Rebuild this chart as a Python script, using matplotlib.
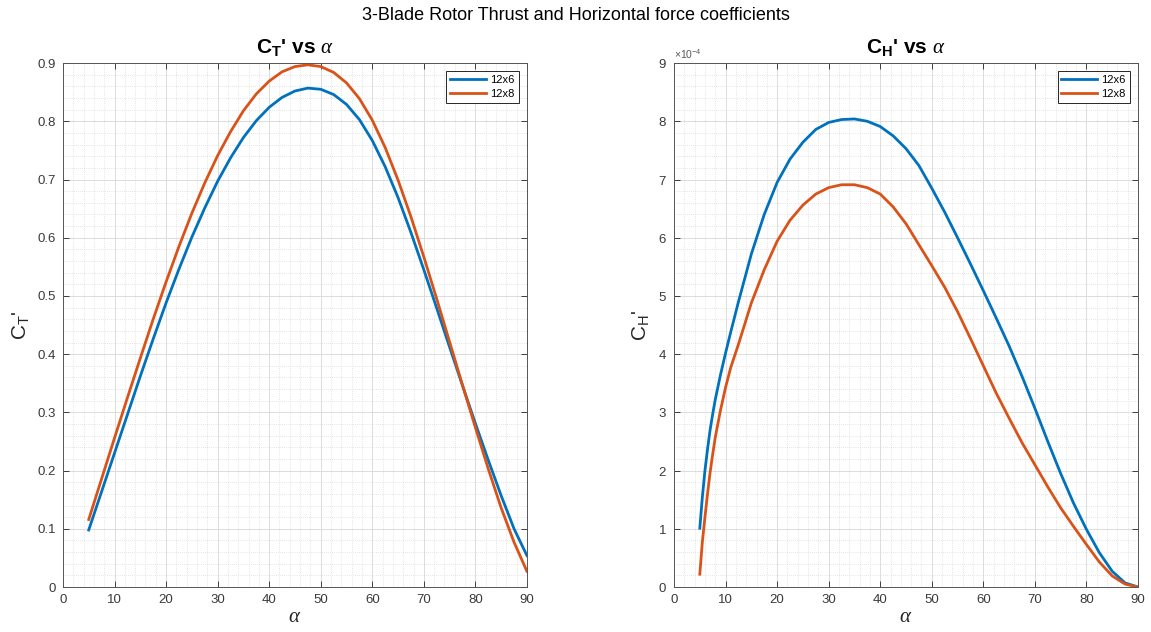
import matplotlib
matplotlib.use('Agg')
import matplotlib.pyplot as plt
from matplotlib.ticker import MultipleLocator, ScalarFormatter, FuncFormatter

# angle of attack (deg) for the thrust curves
alpha_ct = [5, 7.5, 10, 12.5, 15, 17.5, 20, 22.5, 25, 27.5, 30, 32.5, 35, 37.5,
            40, 42.5, 45, 47.5, 50, 52.5, 55, 57.5, 60, 62.5, 65, 67.5, 70,
            72.5, 75, 77.5, 80, 82.5, 85, 87.5, 90]
ct_12x6 = [0.098, 0.164, 0.230, 0.296, 0.362, 0.426, 0.488, 0.546, 0.601,
           0.651, 0.697, 0.737, 0.772, 0.801, 0.824, 0.841, 0.852, 0.857,
           0.855, 0.846, 0.829, 0.803, 0.767, 0.722, 0.669, 0.609, 0.545,
           0.479, 0.412, 0.346, 0.281, 0.218, 0.157, 0.100, 0.054]
ct_12x8 = [0.116, 0.186, 0.256, 0.325, 0.393, 0.460, 0.524, 0.585, 0.642,
           0.694, 0.741, 0.782, 0.818, 0.847, 0.869, 0.885, 0.894, 0.897,
           0.894, 0.884, 0.866, 0.839, 0.802, 0.755, 0.699, 0.636, 0.567,
           0.495, 0.421, 0.347, 0.274, 0.203, 0.136, 0.077, 0.027]

# horizontal force curves, finer steps where they rise steeply (units of 1e-4)
alpha_ch = [5, 5.5, 6, 6.5, 7, 7.5, 8, 9, 10, 11, 12.5, 15, 17.5, 20, 22.5,
            25, 27.5, 30, 32.5, 35, 37.5, 40, 42.5, 45, 47.5, 50, 52.5, 55,
            57.5, 60, 62.5, 65, 67.5, 70, 72.5, 75, 77.5, 80, 82.5, 85, 87.5, 90]
ch_12x6 = [1.01, 1.55, 2.00, 2.37, 2.70, 2.97, 3.22, 3.64, 4.02, 4.38, 4.90,
           5.72, 6.40, 6.95, 7.35, 7.64, 7.86, 7.98, 8.03, 8.04, 8.00, 7.91,
           7.75, 7.53, 7.24, 6.85, 6.44, 6.00, 5.55, 5.09, 4.62, 4.14, 3.62,
           3.07, 2.50, 1.95, 1.44, 0.99, 0.59, 0.27, 0.07, 0.0]
ch_12x8 = [0.22, 0.78, 1.20, 1.60, 1.97, 2.28, 2.57, 3.03, 3.43, 3.77, 4.17,
           4.88, 5.45, 5.94, 6.30, 6.56, 6.75, 6.86, 6.91, 6.91, 6.86, 6.75,
           6.53, 6.24, 5.88, 5.52, 5.15, 4.73, 4.27, 3.80, 3.33, 2.90, 2.48,
           2.10, 1.72, 1.36, 1.04, 0.73, 0.43, 0.19, 0.05, 0.0]

props = ['12x6', '12x8']
colors = ['#0072BD', '#D95319']

plt.rcParams['font.family'] = ['Liberation Sans', 'DejaVu Sans']
plt.rcParams['mathtext.fontset'] = 'custom'
plt.rcParams['mathtext.rm'] = 'Liberation Sans'
plt.rcParams['mathtext.it'] = 'Liberation Serif:italic'
plt.rcParams['mathtext.bf'] = 'Liberation Sans:bold'

AX_COLOR = '#262626'


def style_axes(ax, ymax, ystep, yminor):
    ax.set_xlim(0, 90)
    ax.set_ylim(0, ymax)
    ax.xaxis.set_major_locator(MultipleLocator(10))
    ax.xaxis.set_minor_locator(MultipleLocator(2))
    ax.yaxis.set_major_locator(MultipleLocator(ystep))
    ax.yaxis.set_minor_locator(MultipleLocator(yminor))
    ax.grid(which='major', color='#dcdcdc', linewidth=0.7)
    ax.grid(which='minor', color='#cccccc', linewidth=0.5, linestyle=(0, (1, 2)))
    ax.set_axisbelow(True)
    ax.tick_params(which='major', direction='in', top=True, right=True,
                   length=4, width=0.6, color=AX_COLOR, labelsize=9.5,
                   labelcolor='#3a3a3a', pad=5)
    ax.tick_params(which='minor', length=0)
    for spine in ax.spines.values():
        spine.set_color('#555555')
        spine.set_linewidth(0.7)
    ax.set_xlabel(r'$\alpha$', fontsize=15, color=AX_COLOR, labelpad=1)
    leg = ax.legend(loc='upper right', fontsize=8, fancybox=False,
                    framealpha=1, edgecolor=AX_COLOR, handlelength=3.2,
                    handletextpad=0.4, borderpad=0.35, borderaxespad=0.75,
                    labelspacing=0.35)
    leg.get_frame().set_linewidth(0.7)


fig = plt.figure(figsize=(11.51, 6.32), dpi=100)
ax1 = fig.add_axes([0.0547, 0.0712, 0.4031, 0.829])
ax2 = fig.add_axes([0.5856, 0.0712, 0.4031, 0.829])

# thrust coefficient
for vals, name, c in zip([ct_12x6, ct_12x8], props, colors):
    ax1.plot(alpha_ct, vals, color=c, linewidth=2, label=name,
             solid_joinstyle='round')
style_axes(ax1, 0.9, 0.1, 0.02)
ax1.yaxis.set_major_formatter(FuncFormatter(lambda v, pos: f'{v:g}'))
ax1.set_title(r"$\mathbf{C_T}$' vs $\alpha$", fontsize=15, fontweight='bold', pad=7)
ax1.set_ylabel(r"$\mathrm{C_T}$'", fontsize=15, color=AX_COLOR)

# horizontal force coefficient
for vals, name, c in zip([ch_12x6, ch_12x8], props, colors):
    ax2.plot(alpha_ch, [v * 1e-4 for v in vals], color=c, linewidth=2,
             label=name, solid_joinstyle='round')
style_axes(ax2, 9e-4, 1e-4, 0.2e-4)
fmt = ScalarFormatter(useMathText=True)
fmt.set_powerlimits((-3, 3))
ax2.yaxis.set_major_formatter(fmt)
ax2.yaxis.get_offset_text().set_fontsize(7.5)
ax2.yaxis.get_offset_text().set_color('#555555')
ax2.set_title(r"$\mathbf{C_H}$' vs $\alpha$", fontsize=15, fontweight='bold', pad=7)
ax2.set_ylabel(r"$\mathrm{C_H}$'", fontsize=15, color=AX_COLOR)

fig.suptitle('3-Blade Rotor Thrust and Horizontal force coefficients',
             fontsize=13, y=0.975, va='center')

fig.savefig('out.png', dpi=100)
